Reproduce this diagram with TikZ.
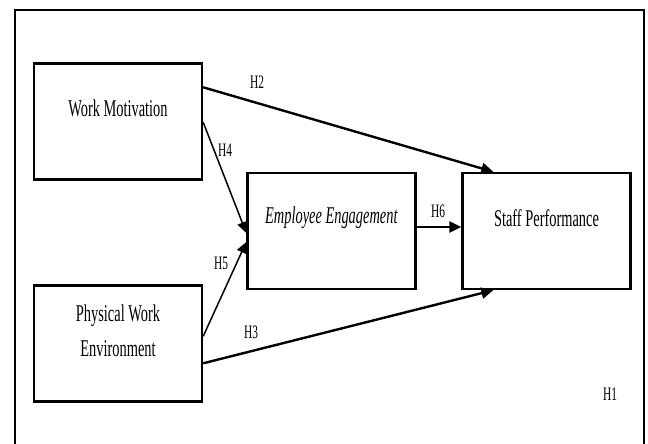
\documentclass[tikz,border=0pt]{standalone}
\usepackage{fontspec}
\setmainfont{Liberation Serif}[FakeStretch=0.6]
\usetikzlibrary{arrows.meta,positioning}

\begin{document}
\begin{tikzpicture}[
  x=0.5pt, y=-0.5pt, font=\fontsize{12}{17.5}\selectfont,
  every node/.style={align=center},
  construct/.style={draw, line width=1.2pt, minimum width=84pt,
    minimum height=58pt, inner sep=0pt},
  hypothesis/.style={font=\fontsize{9.5}{11}\selectfont, inner sep=1pt},
  strong/.style={-{Triangle[length=6pt,width=5.5pt]}, line width=1.2pt},
  weak/.style={-{Triangle[length=5.5pt,width=5pt]}, line width=0.75pt}]
\useasboundingbox (0,0) rectangle (648,444);
\draw[line width=1pt] (15,446) -- (15,10) -- (644,10) -- (644,446);
% constructs
\node[construct] (wm) at (118,121.5) {};
\node[construct] (pwe) at (118,343.5) {};
\node[construct] (ee) at (331.5,231) {};
\node[construct] (sp) at (546.5,231) {};
\node (wmtext) at ([yshift=6.5pt]wm.center) {Work Motivation};
\node (pwetext) at ([yshift=6.5pt]pwe.center) {Physical Work\\Environment};
\node (eetext) at ([yshift=6.5pt]ee.center) {\textit{Employee Engagement}};
\node (sptext) at ([yshift=6.5pt]sp.center) {Staff Performance};
% paths
\draw[strong] ([yshift=-12.5pt]wm.north east) -- ([xshift=16pt]sp.north west);
\draw[weak] ([yshift=-30pt]wm.north east) -- ([yshift=-1pt]ee.west);
\draw[weak] ([yshift=-26pt]pwe.north east) -- ([yshift=-5.5pt]ee.west);
\draw[strong] ([yshift=-39.5pt]pwe.north east) -- ([xshift=16pt]sp.south west);
\draw[strong] ([yshift=2pt]ee.east) -- ([yshift=2pt]sp.west);
% hypotheses
\node[hypothesis] (h2) at (257,82) {H2};
\node[hypothesis] (h4) at (225,150) {H4};
\node[hypothesis] (h6) at (438,211) {H6};
\node[hypothesis] (h5) at (221,263) {H5};
\node[hypothesis] (h3) at (251,332) {H3};
\node[hypothesis] (h1) at (610,394) {H1};
\end{tikzpicture}
\end{document}
